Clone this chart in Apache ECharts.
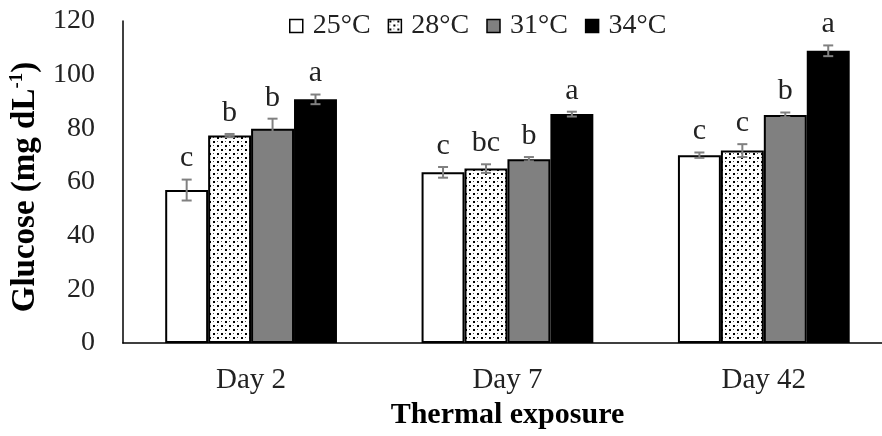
<!DOCTYPE html>
<html>
<head>
<meta charset="utf-8">
<script src="https://cdn.jsdelivr.net/npm/echarts@6/dist/echarts.min.js"></script>
<style>html,body{margin:0;padding:0;background:#fff;overflow:hidden;width:882px;height:436px}#c{width:892px;height:436px}</style>
</head>
<body>
<div id="c"></div>
<script>
const categories = ['Day 2', 'Day 7', 'Day 42'];
const seriesNames = ['25°C', '28°C', '31°C', '34°C'];
const glucose25 = [57.0, 63.6, 70.0];
const glucose28 = [77.3, 65.0, 71.7];
const glucose31 = [79.8, 68.5, 85.0];
const glucose34 = [90.8, 85.3, 108.9];
const sem25 = [3.9, 2.0, 1.0];
const sem28 = [0.6, 1.6, 2.4];
const sem31 = [3.8, 0.8, 0.9];
const sem34 = [1.8, 0.9, 2.0];
const letters25 = ['c', 'c', 'c'];
const letters28 = ['b', 'bc', 'c'];
const letters31 = ['b', 'b', 'b'];
const letters34 = ['a', 'a', 'a'];
const yTicks = [0, 20, 40, 60, 80, 100, 120];

const values = [glucose25, glucose28, glucose31, glucose34];
const sems = [sem25, sem28, sem31, sem34];
const letters = [letters25, letters28, letters31, letters34];

// dotted pattern
const pc = document.createElement('canvas');
pc.width = 8; pc.height = 8;
const px = pc.getContext('2d');
px.fillStyle = '#fff'; px.fillRect(0, 0, 8, 8);
px.fillStyle = '#000';
px.fillRect(1, 1, 2, 2);
px.fillRect(5, 5, 2, 2);
px.fillStyle = '#555';
px.fillRect(5, 1, 1, 1);
px.fillRect(1, 5, 1, 1);

const fills = ['#ffffff', { image: pc, repeat: 'repeat' }, '#808080', '#000000'];
const FONT = 'Liberation Serif';
const catGap = 0.33;

const series = [];
seriesNames.forEach((name, i) => {
  series.push({
    type: 'bar',
    name: name,
    data: values[i],
    barGap: '0%',
    barCategoryGap: (catGap * 100) + '%',
    itemStyle: { color: fills[i], borderColor: '#000', borderWidth: 2 },
    emphasis: { disabled: true },
    z: 2
  });
});
seriesNames.forEach((name, i) => {
  series.push({
    type: 'custom',
    name: name + ' err',
    data: values[i].map((v, j) => [j, v, sems[i][j], letters[i][j]]),
    renderItem: function (params, api) {
      const cat = api.value(0);
      const v = api.value(1);
      const e = api.value(2);
      const bw = api.size([1, 0])[0] * (1 - catGap) / 4;
      const c = api.coord([cat, v]);
      const xc = c[0] + (i - 1.5) * bw;
      const yHi = api.coord([cat, v + e])[1];
      const yLo = api.coord([cat, v - e])[1];
      const st = { stroke: '#808080', lineWidth: 2 };
      const hw = 5;
      return {
        type: 'group',
        children: [
          { type: 'line', shape: { x1: xc, y1: yHi, x2: xc, y2: yLo }, style: st },
          { type: 'line', shape: { x1: xc - hw, y1: yHi, x2: xc + hw, y2: yHi }, style: st },
          { type: 'line', shape: { x1: xc - hw, y1: yLo, x2: xc + hw, y2: yLo }, style: st },
          { type: 'text', x: xc, y: yHi - 6, style: { text: api.value(3), fontFamily: FONT, fontSize: 30, fill: '#222', align: 'center', verticalAlign: 'bottom' } }
        ]
      };
    },
    z: 5,
    silent: true
  });
});

const chart = echarts.init(document.getElementById('c'), null, { renderer: 'canvas' });
chart.setOption({
  animation: false,
  backgroundColor: '#fff',
  grid: { left: 121, right: 0, top: 21, bottom: 93, containLabel: false },
  legend: {
    data: seriesNames,
    top: 7,
    left: 284,
    itemWidth: 13,
    itemHeight: 13,
    itemGap: 17,
    icon: 'rect',
    itemStyle: { borderColor: '#000', borderWidth: 1.5 },
    textStyle: { fontFamily: FONT, fontSize: 28, color: '#222', padding: [0, 0, 0, 5] },
    selectedMode: false
  },
  xAxis: {
    type: 'category',
    data: categories,
    axisLine: { lineStyle: { color: '#000', width: 1.5 } },
    axisTick: { show: false },
    axisLabel: { fontFamily: FONT, fontSize: 29, color: '#222', margin: 23 },
    name: 'Thermal exposure',
    nameLocation: 'middle',
    nameGap: 57,
    nameTextStyle: { fontFamily: FONT, fontSize: 30, fontWeight: 'bold', color: '#000' }
  },
  yAxis: {
    type: 'value',
    min: 0,
    max: 120,
    interval: 20,
    splitLine: { show: false },
    axisLine: { show: true, lineStyle: { color: '#000', width: 1.5 } },
    axisTick: { show: false },
    axisLabel: { fontFamily: FONT, fontSize: 28, color: '#222', margin: 28, padding: [4, 0, 0, 0],
      formatter: v => yTicks.includes(v) ? String(v) : '' },
    name: '{m|Glucose (mg dL}{s|-1}{m|)}',
    nameLocation: 'middle',
    nameGap: 78,
    nameTextStyle: {
      fontFamily: FONT, fontWeight: 'bold', color: '#000', padding: [0, 10, 0, 0],
      rich: {
        m: { fontFamily: FONT, fontSize: 33, fontWeight: 'bold', color: '#000', lineHeight: 34, verticalAlign: 'bottom' },
        s: { fontFamily: FONT, fontSize: 19, fontWeight: 'bold', color: '#000', lineHeight: 34, verticalAlign: 'top' }
      }
    }
  },
  series: series
});
</script>
</body>
</html>
